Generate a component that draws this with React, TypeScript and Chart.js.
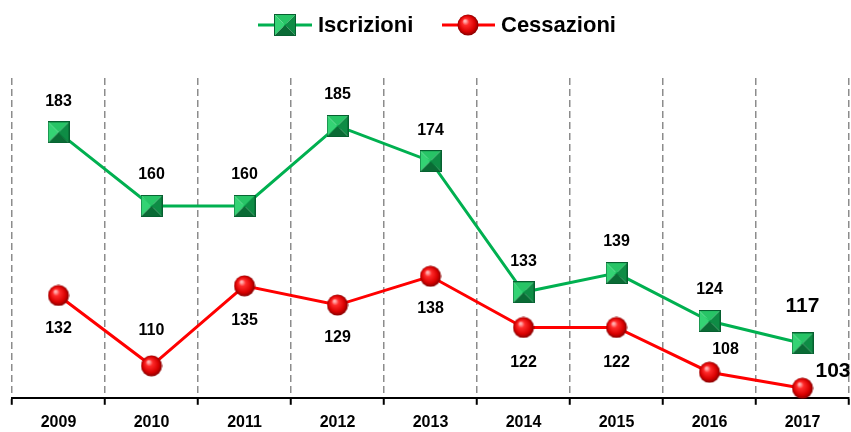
import React, { useEffect, useRef } from "react";
import { Chart, registerables } from "chart.js";

Chart.register(...registerables);

const years = ["2009", "2010", "2011", "2012", "2013", "2014", "2015", "2016", "2017"];
const iscrizioni = [183, 160, 160, 185, 174, 133, 139, 124, 117];
const cessazioni = [132, 110, 135, 129, 138, 122, 122, 108, 103];

// label placement (styling only): [dx, dy, fontSize, align]
const iscrLabelPlace: [number, number, number, CanvasTextAlign][] = [
  [0, -31, 16, "center"], [0, -31, 16, "center"], [0, -31, 16, "center"],
  [0, -31, 16, "center"], [0, -31, 16, "center"], [0, -31, 16, "center"],
  [0, -31, 16, "center"], [0, -31, 16, "center"], [0, -37, 21, "center"],
];
const cessLabelPlace: [number, number, number, CanvasTextAlign][] = [
  [0, 33, 16, "center"], [0, -35, 16, "center"], [0, 35, 16, "center"],
  [0, 33, 16, "center"], [0, 32, 16, "center"], [0, 35, 16, "center"],
  [0, 35, 16, "center"], [16, -23, 16, "center"], [13, -17, 21, "left"],
];

const FONT = "'Liberation Sans', Arial, sans-serif";
const GREEN = "#00B050";
const RED = "#FF0000";

function makeSquare(size: number): HTMLCanvasElement {
  const c = document.createElement("canvas");
  c.width = size;
  c.height = size;
  const g = c.getContext("2d")!;
  const s = size;
  const m = s / 2;
  const tri = (pts: number[][], color: string) => {
    g.beginPath();
    g.moveTo(pts[0][0], pts[0][1]);
    for (let i = 1; i < pts.length; i++) g.lineTo(pts[i][0], pts[i][1]);
    g.closePath();
    g.fillStyle = color;
    g.fill();
  };
  tri([[0, 0], [s, 0], [m, m]], "#27C466");
  tri([[0, 0], [0, s], [m, m]], "#34D374");
  tri([[s, 0], [s, s], [m, m]], "#0E8C45");
  tri([[0, s], [s, s], [m, m]], "#0A6B35");
  g.strokeStyle = "#066030";
  g.lineWidth = 1;
  g.strokeRect(0.5, 0.5, s - 1, s - 1);
  return c;
}

function makeSphere(size: number): HTMLCanvasElement {
  const c = document.createElement("canvas");
  c.width = size;
  c.height = size;
  const g = c.getContext("2d")!;
  const r = size / 2;
  const grad = g.createRadialGradient(r - 3, r - 4, 1, r, r, r);
  grad.addColorStop(0, "#FFB0B0");
  grad.addColorStop(0.25, "#FF2A2A");
  grad.addColorStop(0.7, "#D80000");
  grad.addColorStop(1, "#7A0000");
  g.beginPath();
  g.arc(r, r, r - 0.5, 0, Math.PI * 2);
  g.fillStyle = grad;
  g.fill();
  return c;
}

export default function App() {
  const ref = useRef<HTMLCanvasElement>(null);

  useEffect(() => {
    document.body.style.margin = "0";
    const square = makeSquare(22);
    const sphere = makeSphere(22);

    const labelsPlugin = {
      id: "valueLabels",
      afterDatasetsDraw(chart: any) {
        const ctx = chart.ctx;
        ctx.save();
        ctx.fillStyle = "#000";
        ctx.textBaseline = "middle";
        const sets = [
          { vals: iscrizioni, place: iscrLabelPlace, idx: 0 },
          { vals: cessazioni, place: cessLabelPlace, idx: 1 },
        ];
        for (const s of sets) {
          const meta = chart.getDatasetMeta(s.idx);
          meta.data.forEach((pt: any, i: number) => {
            const [dx, dy, fs, al] = s.place[i];
            ctx.font = `bold ${fs}px ${FONT}`;
            ctx.textAlign = al;
            ctx.fillText(String(s.vals[i]), pt.x + dx, pt.y + dy);
          });
        }
        ctx.restore();
      },
    };

    const legendPlugin = {
      id: "customLegend",
      afterDraw(chart: any) {
        const ctx = chart.ctx;
        ctx.save();
        const y = 25;
        const items = [
          { x1: 258, x2: 312, mx: 285, tx: 318, color: GREEN, img: square, text: "Iscrizioni" },
          { x1: 442, x2: 495, mx: 468, tx: 501, color: RED, img: sphere, text: "Cessazioni" },
        ];
        for (const it of items) {
          ctx.strokeStyle = it.color;
          ctx.lineWidth = 3;
          ctx.beginPath();
          ctx.moveTo(it.x1, y);
          ctx.lineTo(it.x2, y);
          ctx.stroke();
          ctx.drawImage(it.img, it.mx - it.img.width / 2, y - it.img.height / 2);
          ctx.fillStyle = "#000";
          ctx.font = `bold 22px ${FONT}`;
          ctx.textAlign = "left";
          ctx.textBaseline = "middle";
          ctx.fillText(it.text, it.tx, y + 1);
        }
        ctx.restore();
      },
    };

    const chart = new Chart(ref.current!, {
      type: "line",
      data: {
        labels: years,
        datasets: [
          {
            label: "Iscrizioni",
            data: iscrizioni,
            borderColor: GREEN,
            backgroundColor: GREEN,
            borderWidth: 3,
            pointStyle: square as any,
            pointRadius: 11,
            tension: 0,
            clip: false as any,
          },
          {
            label: "Cessazioni",
            data: cessazioni,
            borderColor: RED,
            backgroundColor: RED,
            borderWidth: 3,
            pointStyle: sphere as any,
            pointRadius: 11,
            tension: 0,
            clip: false as any,
          },
        ],
      },
      options: {
        responsive: false,
        animation: false,
        layout: { autoPadding: false, padding: { left: 12, right: 2, top: 78, bottom: -8 } },
        plugins: {
          legend: { display: false },
          tooltip: { enabled: false },
        },
        scales: {
          x: {
            offset: true,
            afterFit: (axis: any) => {
              axis.paddingLeft = 0;
              axis.paddingRight = 0;
            },
            grid: {
              offset: true,
              color: "#8C8C8C",
              lineWidth: 1.5,
              tickColor: "#000",
              tickWidth: 2,
              tickLength: 7,
            },
            border: { display: true, color: "#000", width: 2, dash: [7, 4] },
            ticks: {
              color: "#000",
              font: { family: FONT, size: 16, weight: "bold" },
              padding: 8,
              maxRotation: 0,
            },
          },
          y: {
            display: false,
            min: 100,
            max: 200,
          },
        },
      },
      plugins: [labelsPlugin, legendPlugin],
    });
    return () => chart.destroy();
  }, []);

  return (
    <div style={{ width: 851, height: 432 }}>
      <canvas ref={ref} width={851} height={432} style={{ display: "block" }} />
    </div>
  );
}
